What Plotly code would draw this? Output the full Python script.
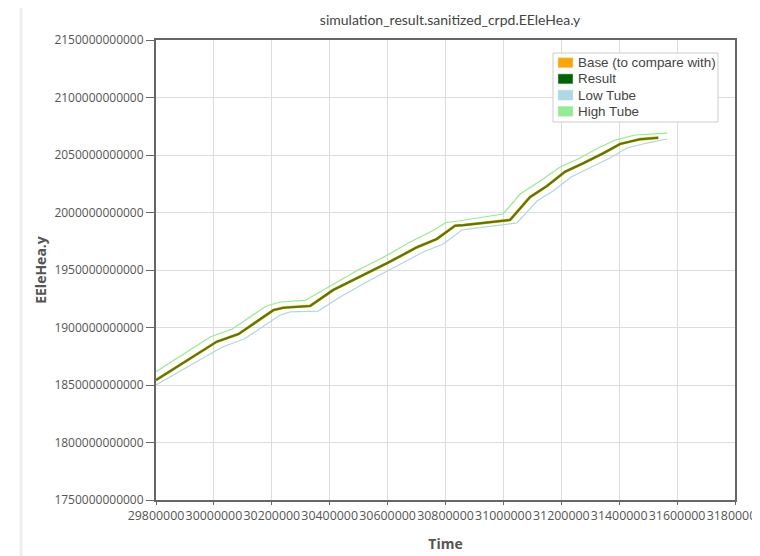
import plotly.graph_objects as go

# Result (and Base, identical) series
result_time = [29800000, 30010000, 30085000, 30206000, 30240500, 30332700, 30412000, 30516700,
               30597500, 30701000, 30770000, 30833300, 30862000, 31023000, 31092000, 31150000,
               31213000, 31276000, 31345000, 31403000, 31472000, 31535000]
result_val = [1854.3e9, 1887.7e9, 1894.3e9, 1915.2e9, 1917.2e9, 1918.7e9, 1932.6e9, 1945.7e9,
              1955.8e9, 1969.7e9, 1977.0e9, 1988.5e9, 1989.1e9, 1993.5e9, 2013.5e9, 2023.0e9,
              2035.5e9, 2042.8e9, 2051.5e9, 2059.6e9, 2063.7e9, 2065.0e9]

high_time = [29800000, 29987000, 30063000, 30181000, 30229000, 30315000, 30402000, 30498000,
             30581000, 30678000, 30754000, 30802000, 30844000, 30999000, 31058000, 31127000,
             31196000, 31258000, 31327000, 31386000, 31455000, 31565000]
high_val = [1861.6e9, 1891.7e9, 1898.7e9, 1918.7e9, 1922.2e9, 1923.5e9, 1936.1e9, 1950.0e9,
            1960.4e9, 1974.3e9, 1983.9e9, 1991.3e9, 1992.6e9, 1998.7e9, 2016.1e9, 2027.4e9,
            2039.6e9, 2046.5e9, 2056.1e9, 2063.0e9, 2067.4e9, 2069.1e9]

low_time = [29800000, 30029000, 30105000, 30229000, 30264000, 30360000, 30436000, 30540000,
            30619000, 30723000, 30792000, 30857000, 30885000, 31047000, 31116000, 31172000,
            31234000, 31299000, 31368000, 31427000, 31496000, 31565000]
low_val = [1850.0e9, 1883.0e9, 1890.0e9, 1910.9e9, 1913.5e9, 1914.3e9, 1926.5e9, 1941.3e9,
           1951.7e9, 1965.7e9, 1972.6e9, 1984.8e9, 1985.7e9, 1990.9e9, 2010.0e9, 2018.7e9,
           2030.9e9, 2038.7e9, 2047.4e9, 2056.1e9, 2060.4e9, 2063.9e9]

x_ticks = [29800000, 30000000, 30200000, 30400000, 30600000, 30800000, 31000000,
           31200000, 31400000, 31600000, 31800000]
y_ticks = [1750e9, 1800e9, 1850e9, 1900e9, 1950e9, 2000e9, 2050e9, 2100e9, 2150e9]

legend_names = ["Base (to compare with)", "Result", "Low Tube", "High Tube"]
legend_colors = ["#FFA500", "#006400", "#ADD8E6", "#90EE90"]

# ---- layout geometry (pixels in the 760x556 window; page body adds 8px offset) ----
BODY = 8
PLOT_L, PLOT_R, PLOT_T, PLOT_B = 156, 735, 40, 500
PW, PH = PLOT_R - PLOT_L, PLOT_B - PLOT_T


def px(xp):
    return (xp - PLOT_L) / PW


def py(yp):
    return (PLOT_B - yp) / PH


fig = go.Figure()
fig.add_trace(go.Scatter(x=low_time, y=low_val, mode="lines",
                         line=dict(color="#ADD8E6", width=1.2), showlegend=False, hoverinfo="skip"))
fig.add_trace(go.Scatter(x=high_time, y=high_val, mode="lines",
                         line=dict(color="#90EE90", width=1.2), showlegend=False, hoverinfo="skip"))
fig.add_trace(go.Scatter(x=result_time, y=result_val, mode="lines",
                         line=dict(color="#FFA500", width=2.8), showlegend=False))
fig.add_trace(go.Scatter(x=result_time, y=result_val, mode="lines", opacity=0.66,
                         line=dict(color="#006400", width=2.2), showlegend=False))

axis_common = dict(showgrid=True, gridcolor="#dddddd", gridwidth=1,
                   showline=True, linecolor="#666666", linewidth=2, mirror=True,
                   ticks="outside", tickcolor="#666666", zeroline=False,
                   automargin=False, tickangle=0, ticklabeloverflow="allow")

fig.update_layout(
    width=760 - BODY, height=556 - BODY,
    margin=dict(l=PLOT_L - BODY, r=760 - PLOT_R, t=PLOT_T - BODY, b=556 - PLOT_B),
    paper_bgcolor="white", plot_bgcolor="white",
    showlegend=False,
    title=dict(text="simulation_result.sanitized_crpd.EEleHea.y", xref="paper", x=px(450),
               xanchor="center", yref="container", y=1 - (20 - BODY) / (556 - BODY),
               yanchor="middle",
               font=dict(family="Lato", size=14, color="#444444")),
    xaxis=dict(range=[29800000, 31800000], tickvals=x_ticks,
               ticktext=[str(v) for v in x_ticks], ticklen=3,
               tickfont=dict(family="Open Sans", size=12.4, color="#555555"),
               title=dict(text="<b>Time</b>", standoff=16,
                          font=dict(family="Open Sans", size=14, color="#555555")),
               **axis_common),
    yaxis=dict(range=[1750e9, 2150e9], tickvals=y_ticks,
               ticktext=[str(int(v)) for v in y_ticks], ticklen=8,
               tickfont=dict(family="Open Sans", size=12, color="#555555"),
               title=dict(text="<b>EEleHea.y</b>", standoff=4,
                          font=dict(family="Open Sans", size=14, color="#555555")),
               **axis_common),
)

# custom legend (square swatches like the reference)
LEG_L, LEG_R, LEG_T, LEG_B = 553, 718, 53, 122
ROW0, ROW_H = 62.7, 16.2
fig.add_shape(type="rect", xref="paper", yref="paper",
              x0=px(LEG_L), x1=px(LEG_R), y0=py(LEG_B), y1=py(LEG_T),
              fillcolor="white", line=dict(color="#cccccc", width=1), layer="above")
for i, (name, col) in enumerate(zip(legend_names, legend_colors)):
    yc = ROW0 + i * ROW_H
    fig.add_shape(type="rect", xref="paper", yref="paper",
                  x0=px(558), x1=px(573), y0=py(yc + 5), y1=py(yc - 5),
                  fillcolor=col, line=dict(color="#dddddd", width=0.5), layer="above")
    fig.add_annotation(xref="paper", yref="paper", x=px(575.5), y=py(yc),
                       xanchor="left", yanchor="middle", showarrow=False, text=name,
                       font=dict(family="Liberation Sans", size=13.4, color="#444444"))

fig.add_shape(type="line", xref="paper", yref="paper",
              x0=px(21), x1=px(21), y0=py(560), y1=py(-10),
              line=dict(color="#eeeeee", width=3))

fig.write_html("out.html")
